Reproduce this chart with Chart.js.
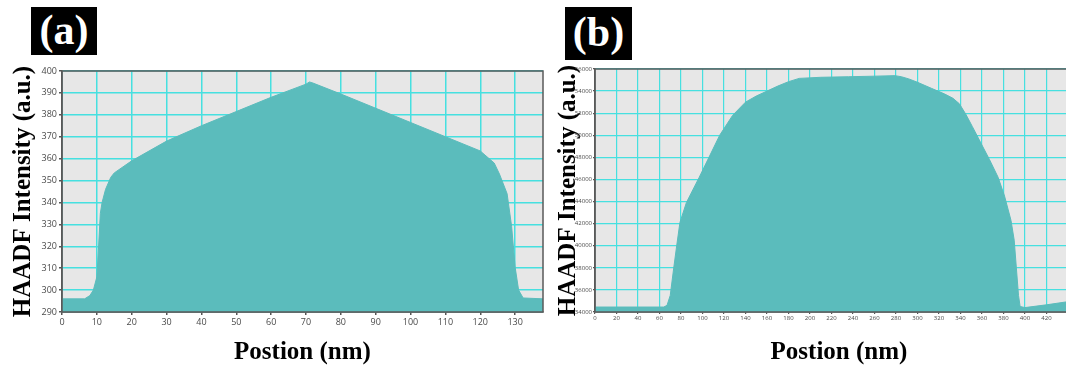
<!DOCTYPE html>
<html>
<head>
<meta charset="utf-8">
<title>HAADF intensity profiles</title>
<script src="https://cdn.jsdelivr.net/npm/chart.js@4.4.1/dist/chart.umd.min.js"></script>
<style>
  html, body { margin: 0; padding: 0; background: #fff; overflow: hidden; width: 1066px; height: 365px; }
  .tag { position: absolute; background: #000; color: #fff; font-family: "Liberation Serif", "Times New Roman", serif;
         font-weight: bold; font-size: 42px; text-align: center; }
  canvas { position: absolute; top: 0; }
  #chartA { left: 0; }
  #chartB { left: 553px; }
</style>
</head>
<body>
<div class="tag" style="left:31px;top:7px;width:66px;height:48px;line-height:46px;">(a)</div>
<div class="tag" style="left:565px;top:7px;width:67px;height:53px;line-height:50px;">(b)</div>
<canvas id="chartA" width="550" height="365"></canvas>
<canvas id="chartB" width="547" height="365"></canvas>
<script>
// (a) line profile, position in nm vs HAADF intensity
const posA = [0, 6.5, 8, 9, 10, 10.5, 11, 11.5, 12.5, 14, 15, 20, 30, 40, 50, 60, 70, 71, 72, 80, 90, 100, 110, 120,
              124, 125.5, 127.7, 129, 130, 131, 132.3, 138];
const valA = [296, 296, 297.5, 300, 306, 320, 335, 340, 346, 351.5, 353.5, 359, 368, 375, 381.5, 388, 394, 395, 394.5,
              389.5, 383, 376.5, 370, 363.5, 358, 353, 344, 329, 310.5, 300, 296.4, 296];

// (b) line profile
const posB = [0, 64, 67, 70, 73, 76, 79, 85, 97, 106, 116, 128, 140, 150, 160, 170, 180, 190, 210, 236, 260, 279, 285,
              292, 300, 313, 325, 333, 339, 345, 351, 359, 367, 375, 381, 387, 390, 392, 394, 395.5, 400, 420, 441, 454];
const valB = [34450, 34450, 34600, 35500, 37800, 40000, 42100, 43900, 46200, 48000, 50000, 51800, 53000, 53550, 54000,
              54450, 54850, 55150, 55250, 55300, 55350, 55400, 55300, 55100, 54800, 54250, 53750, 53350, 52850, 51900,
              50800, 49300, 47800, 46200, 44500, 42300, 40500, 38000, 35500, 34500, 34400, 34650, 34950, 35050];

const ticksA = { xMax: 138, xStep: 10, yMin: 290, yMax: 400, yStep: 10 };
const ticksB = { xMax: 454, xStep: 20, yMin: 34000, yMax: 56000, yStep: 2000 };

const serif = '"Liberation Serif", "Times New Roman", serif';
const fillColor = '#5bbcbc';
const gridColor = '#46e0e0';

// plot background and frame
const plotFrame = {
  id: 'plotFrame',
  beforeDraw(chart) {
    const { ctx, chartArea: a } = chart;
    ctx.save();
    ctx.fillStyle = '#e7e7e7';
    ctx.fillRect(a.left, a.top, a.right - a.left, a.bottom - a.top);
    ctx.restore();
  },
  afterDraw(chart) {
    const { ctx, chartArea: a } = chart;
    ctx.save();
    ctx.strokeStyle = '#5a5a5a';
    ctx.lineWidth = 1.5;
    ctx.strokeRect(a.left, a.top, a.right - a.left, a.bottom - a.top);
    ctx.restore();
  }
};

// keep only the round ticks (no tick at the axis max)
const stepTicks = step => s => { s.ticks = s.ticks.filter(t => Math.abs(t.value / step - Math.round(t.value / step)) < 1e-6); };

function makeChart(id, xs, ys, t, o) {
  const pts = xs.map((x, i) => ({ x: x, y: ys[i] }));
  return new Chart(document.getElementById(id), {
    type: 'line',
    data: { datasets: [{ data: pts, fill: 'start', backgroundColor: fillColor, borderColor: fillColor,
                         borderWidth: 1, pointRadius: 0, tension: 0 }] },
    options: {
      responsive: false, animation: false,
      layout: { padding: { top: o.top, right: o.right, left: 0, bottom: 0 } },
      plugins: { legend: { display: false }, tooltip: { enabled: false } },
      scales: {
        x: {
          type: 'linear', min: 0, max: t.xMax,
          afterBuildTicks: stepTicks(t.xStep),
          afterFit: s => { s.height = 53; },
          ticks: { stepSize: t.xStep, maxRotation: 0, autoSkip: false, padding: o.tickPad, color: '#4a4a4a',
                   font: { family: 'Open Sans', size: o.tickSize }, callback: v => String(v) },
          grid: { color: gridColor, lineWidth: o.gridW, tickLength: o.tickLen, tickColor: '#555' },
          border: { display: true, color: '#5a5a5a', width: 1.5 },
          title: { display: true, text: 'Postion (nm)', color: '#000', padding: { top: 0, bottom: 0 },
                   font: { family: serif, size: 25, weight: 'bold', lineHeight: 1 } }
        },
        y: {
          min: t.yMin, max: t.yMax,
          afterFit: s => { s.width = o.yWidth; },
          ticks: { stepSize: t.yStep, padding: o.tickPad, color: '#4a4a4a',
                   font: { family: 'Open Sans', size: o.tickSize }, callback: v => String(v) },
          grid: { color: gridColor, lineWidth: o.gridW, tickLength: o.tickLen, tickColor: '#555' },
          border: { display: true, color: '#5a5a5a', width: 1.5 },
          title: { display: true, text: 'HAADF Intensity (a.u.)', color: '#000',
                   padding: { top: o.titlePad, bottom: 0 },
                   font: { family: serif, size: 25, weight: 'bold', lineHeight: 1.2 } }
        }
      }
    },
    plugins: [plotFrame]
  });
}

makeChart('chartA', posA, valA, ticksA,
  { top: 71, right: 7, yWidth: 62, tickPad: 2, tickLen: 3, tickSize: 9, gridW: 1.5, titlePad: 9 });
makeChart('chartB', posB, valB, ticksB,
  { top: 69, right: 17, yWidth: 42, tickPad: 1, tickLen: 2, tickSize: 6, gridW: 1.2, titlePad: 1 });
</script>
</body>
</html>
